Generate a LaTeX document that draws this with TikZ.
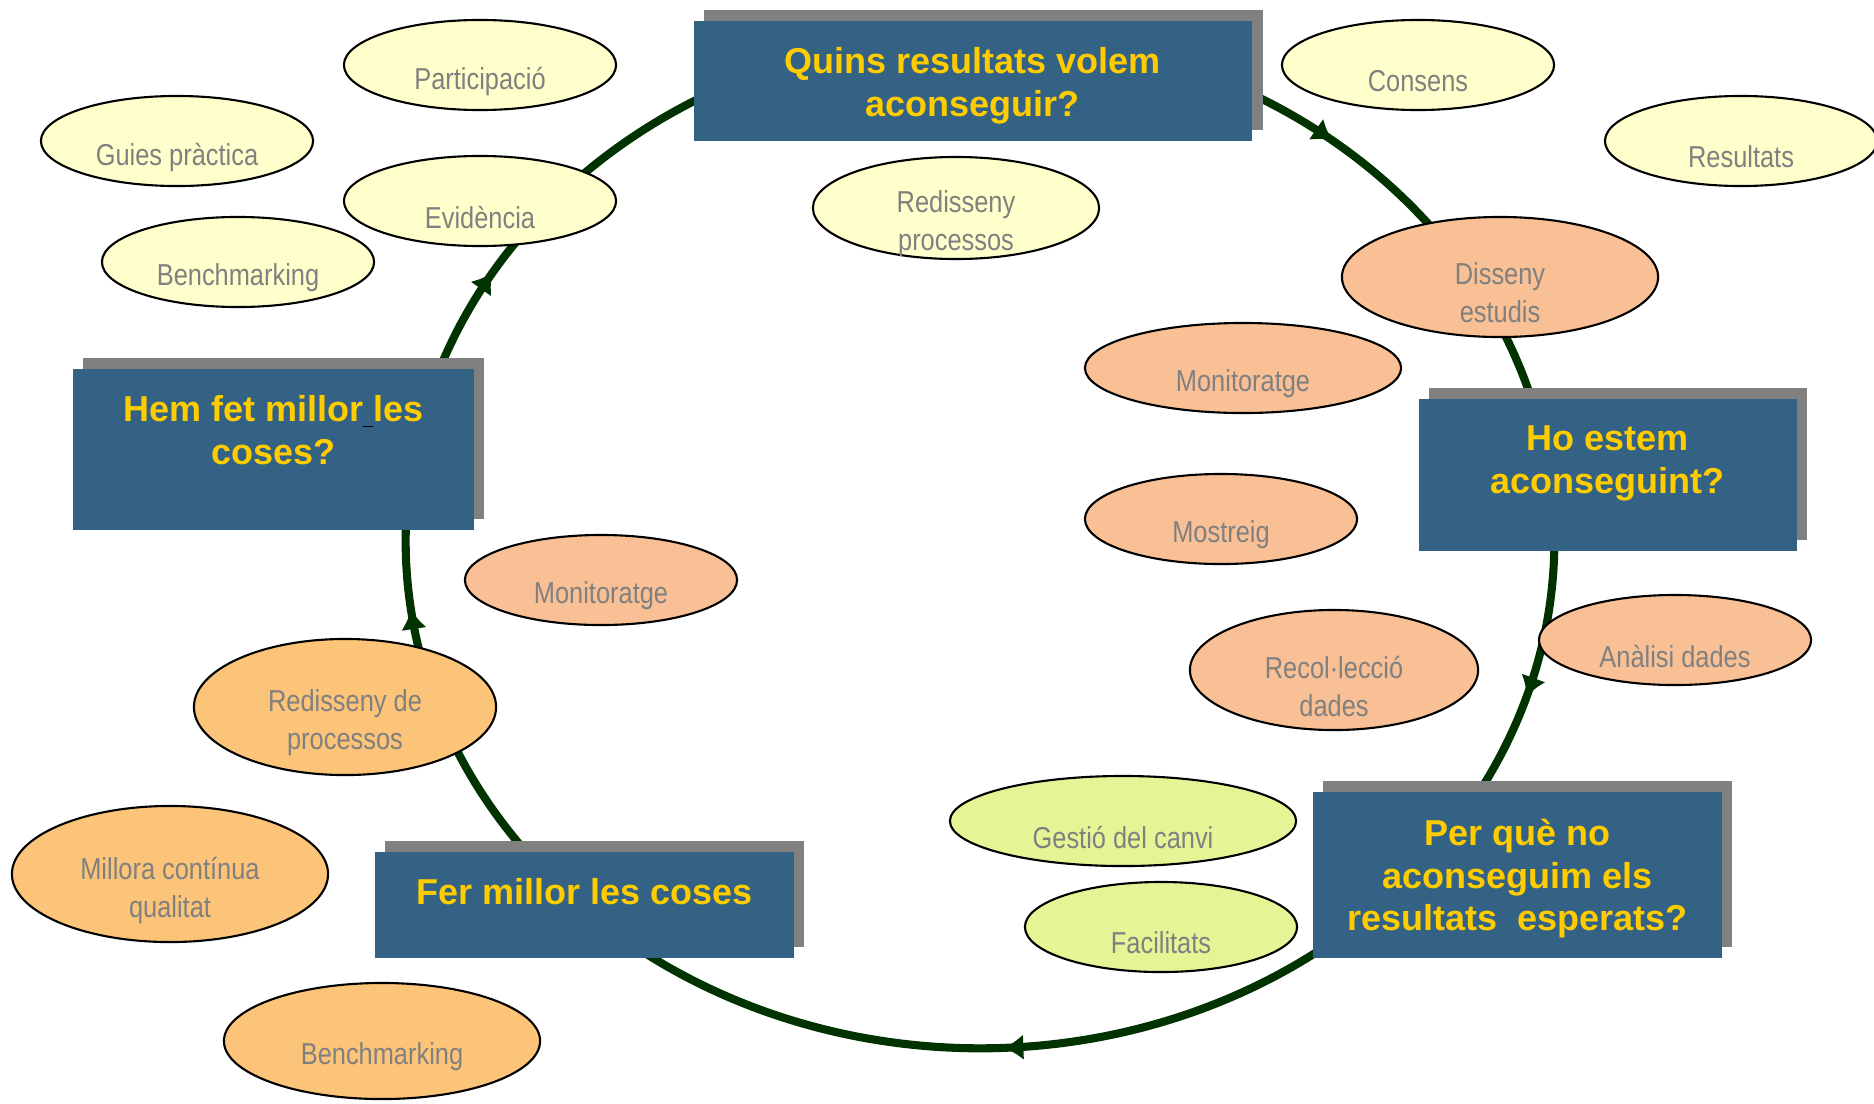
\documentclass[tikz,border=0pt]{standalone}
\usepackage{fontspec}
\setmainfont{Liberation Sans}
\newfontfamily\narrowsans{Liberation Sans}[FakeStretch=0.84]
\usetikzlibrary{shapes.geometric, arrows.meta, shadows, decorations.markings, backgrounds}
\definecolor{BoxBlue}{RGB}{51, 98, 133}
\definecolor{ShadowGray}{RGB}{128, 128, 128}
\definecolor{TitleGold}{RGB}{255, 204, 0}
\definecolor{PaleYellow}{RGB}{255, 255, 204}
\definecolor{Salmon}{RGB}{248, 192, 148}
\definecolor{Apricot}{RGB}{251, 196, 120}
\definecolor{LimeGreen}{RGB}{228, 245, 150}
\definecolor{LoopGreen}{RGB}{0, 51, 0}
\definecolor{TextGray}{RGB}{128, 128, 128}

\begin{document}
\begin{tikzpicture}[x=0.01cm, y=-0.01cm,
  qbox/.style={rectangle, fill=BoxBlue, inner sep=0pt, anchor=north west,
    drop shadow={fill=ShadowGray, opacity=1, shadow xshift=0.105cm, shadow yshift=0.105cm}},
  qtext/.style={anchor=north, inner sep=0pt, align=center, text=TitleGold,
    font=\fontsize{10.24}{12.2}\selectfont\bfseries},
  oval/.style={ellipse, draw=black, line width=0.6pt, inner sep=0pt},
  ovaltext/.style={inner sep=0pt, align=center, text=TextGray, yshift=-0.16cm,
    font=\narrowsans\fontsize{8.6}{10.8}\selectfont},
  loopline/.style={draw=LoopGreen, line width=2.3pt},
  midtip/.style={postaction={decorate, decoration={markings,
    mark=at position #1 with {\arrow{Latex[length=0.2cm, width=0.26cm]}}}}}]
\useasboundingbox (0,0) rectangle (1874,1103);

\node[qbox, minimum width=5.58cm, minimum height=1.2cm] (q1) at (693,20) {};
\node[qtext] (q1t) at ([yshift=-0.27cm]q1.north) {Quins resultats volem\\aconseguir?};
\node[qbox, minimum width=3.78cm, minimum height=1.52cm] (q2) at (1418,398) {};
\node[qtext] (q2t) at ([yshift=-0.27cm]q2.north) {Ho estem\\aconseguint?};
\node[qbox, minimum width=4.09cm, minimum height=1.66cm] (q3) at (1312,791) {};
\node[qtext] (q3t) at ([yshift=-0.27cm]q3.north) {Per què no\\aconseguim els\\resultats~ esperats?};
\node[qbox, minimum width=4.19cm, minimum height=1.06cm] (q4) at (374,851) {};
\node[qtext] (q4t) at ([yshift=-0.27cm]q4.north) {Fer millor les coses};
\node[qbox, minimum width=4.01cm, minimum height=1.61cm] (q5) at (72,368) {};
\node[qtext] (q5t) at ([yshift=-0.27cm]q5.north) {Hem fet millor{\color{black}\underline{\ }}les\\coses?};

\node[oval, fill=PaleYellow, minimum width=2.72cm, minimum height=0.9cm, label={[ovaltext]center:Participació}] (part) at (480,65) {};
\node[oval, fill=PaleYellow, minimum width=2.72cm, minimum height=0.9cm, label={[ovaltext]center:Consens}] (cons) at (1418,65) {};
\node[oval, fill=PaleYellow, minimum width=2.72cm, minimum height=0.9cm, label={[ovaltext]center:Guies pràctica}] (guies) at (177,141) {};
\node[oval, fill=PaleYellow, minimum width=2.72cm, minimum height=0.9cm, label={[ovaltext]center:Resultats}] (resul) at (1741,141) {};
\node[oval, fill=PaleYellow, minimum width=2.72cm, minimum height=0.9cm, label={[ovaltext]center:Evidència}] (evid) at (480,201) {};
\node[oval, fill=PaleYellow, minimum width=2.72cm, minimum height=0.9cm, label={[ovaltext]center:Benchmarking}] (bench1) at (238,262) {};
\node[oval, fill=PaleYellow, minimum width=2.86cm, minimum height=1.02cm, label={[ovaltext]center:Redisseny\\processos}] (redis1) at (956,208) {};

\node[oval, fill=Salmon, minimum width=3.16cm, minimum height=1.2cm, label={[ovaltext]center:Disseny\\estudis}] (disseny) at (1500,277) {};
\node[oval, fill=Salmon, minimum width=3.16cm, minimum height=0.9cm, label={[ovaltext]center:Monitoratge}] (monit1) at (1243,368) {};
\node[oval, fill=Salmon, minimum width=2.72cm, minimum height=0.9cm, label={[ovaltext]center:Mostreig}] (mostr) at (1221,519) {};
\node[oval, fill=Salmon, minimum width=2.88cm, minimum height=1.2cm, label={[ovaltext]center:Recol·lecció\\dades}] (recol) at (1334,670) {};
\node[oval, fill=Salmon, minimum width=2.72cm, minimum height=0.9cm, label={[ovaltext]center:Anàlisi dades}] (anal) at (1675,640) {};
\node[oval, fill=Salmon, minimum width=2.72cm, minimum height=0.9cm, label={[ovaltext]center:Monitoratge}] (monit2) at (601,580) {};

\node[oval, fill=Apricot, minimum width=3.02cm, minimum height=1.36cm, label={[ovaltext]center:Redisseny de\\processos}] (redis2) at (345,707) {};
\node[oval, fill=Apricot, minimum width=3.16cm, minimum height=1.36cm, label={[ovaltext]center:Millora contínua\\qualitat}] (millora) at (170,874) {};
\node[oval, fill=Apricot, minimum width=3.16cm, minimum height=1.16cm, label={[ovaltext]center:Benchmarking}] (bench2) at (382,1041) {};

\node[oval, fill=LimeGreen, minimum width=3.46cm, minimum height=0.9cm, label={[ovaltext]center:Gestió del canvi}] (gestio) at (1123,821) {};
\node[oval, fill=LimeGreen, minimum width=2.72cm, minimum height=0.9cm, label={[ovaltext]center:Facilitats}] (facil) at (1161,927) {};

\coordinate (hub) at (980,541);
\begin{scope}[on background layer]
\draw[loopline, midtip=0.48] (hub) ++(90:5.74cm and 5.07cm) arc[start angle=90, end angle=8, x radius=5.74cm, y radius=5.07cm];
\draw[loopline, midtip=0.51] (hub) ++(8:5.74cm and 5.07cm) arc[start angle=8, end angle=-42, x radius=5.74cm, y radius=5.07cm];
\draw[loopline, midtip=0.495] (hub) ++(-42:5.74cm and 5.07cm) arc[start angle=-42, end angle=-134, x radius=5.74cm, y radius=5.07cm];
\draw[loopline, midtip=0.69] (hub) ++(-134:5.74cm and 5.07cm) arc[start angle=-134, end angle=-190, x radius=5.74cm, y radius=5.07cm];
\draw[loopline, midtip=0.26] (hub) ++(170:5.74cm and 5.07cm) arc[start angle=170, end angle=90, x radius=5.74cm, y radius=5.07cm];
\end{scope}
\end{tikzpicture}
\end{document}
